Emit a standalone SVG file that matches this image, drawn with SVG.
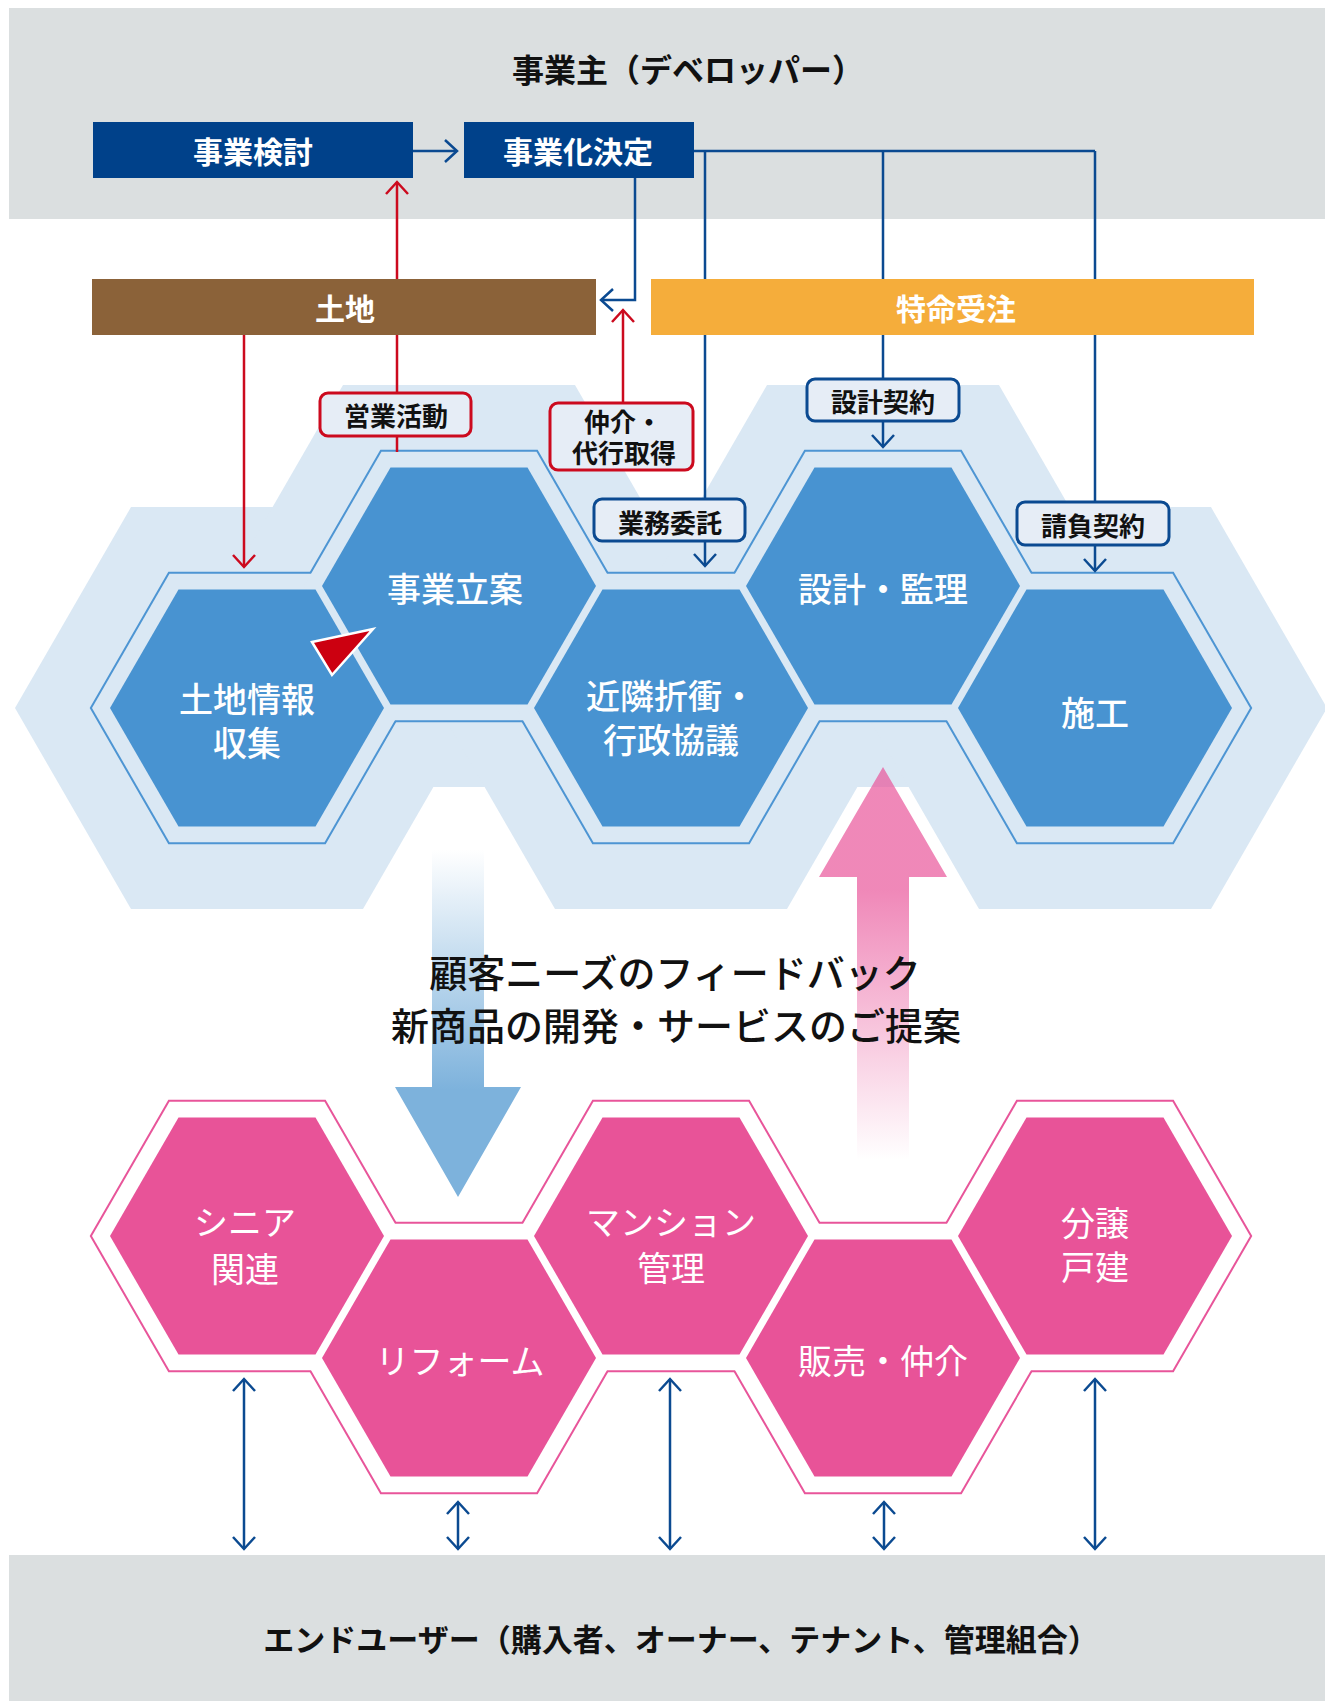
<svg xmlns="http://www.w3.org/2000/svg" xmlns:xlink="http://www.w3.org/1999/xlink" width="1325" height="1701" viewBox="0 0 1325 1701">
<defs>
<style>
text{font-family:"Noto Sans CJK JP","Noto Sans",sans-serif;text-anchor:middle;dominant-baseline:central}
.band{fill:#DBDFE0}
.bg{fill:#DAE8F4}
.ol-b{fill:none;stroke:#4D95D3;stroke-width:4}
.olf-b{fill:#DAE8F4}
.hb{fill:#4893D1}
.ol-p{fill:none;stroke:#E8559A;stroke-width:4}
.olf-p{fill:#FFFFFF}
.hp{fill:#E85398}
.ht{fill:#FFFFFF;font-size:34px;font-weight:500}
.pt{fill:#FFFFFF;font-size:34px;font-weight:400}
.bt{fill:#FFFFFF;font-size:30px;font-weight:700}
.lb{fill:#E6EDF6;stroke-width:3}
.lr{stroke:#CC0A1E}
.lbl{stroke:#0B4A91}
.lt{fill:#111111;font-size:26px;font-weight:600}
.cb{fill:none;stroke:#0B4A91;stroke-width:2.5}
.cr{fill:none;stroke:#CC0A1E;stroke-width:2.5}
.big{fill:#111111;font-size:32px;font-weight:700}
.mid{fill:#111111;font-size:38px;font-weight:500}
</style>
<polygon id="hbg" points="-232,0 -116,-200.9 116,-200.9 232,0 116,200.9 -116,200.9"/>
<polygon id="hol" points="-155,0 -77.5,-134.2 77.5,-134.2 155,0 77.5,134.2 -77.5,134.2"/>
<polygon id="hf" points="-137,0 -68.5,-118.6 68.5,-118.6 137,0 68.5,118.6 -68.5,118.6"/>
<marker id="mb" viewBox="-16 -16 20 32" markerWidth="20" markerHeight="32" refX="0" refY="0" orient="auto-start-reverse" markerUnits="userSpaceOnUse">
<path d="M-12,-11 L0,0 L-12,11" fill="none" stroke="#0B4A91" stroke-width="2.5"/>
</marker>
<marker id="mr" viewBox="-16 -16 20 32" markerWidth="20" markerHeight="32" refX="0" refY="0" orient="auto-start-reverse" markerUnits="userSpaceOnUse">
<path d="M-12,-11 L0,0 L-12,11" fill="none" stroke="#CC0A1E" stroke-width="2.5"/>
</marker>
<linearGradient id="gBlue" gradientUnits="userSpaceOnUse" x1="0" y1="850" x2="0" y2="1090">
<stop offset="0" stop-color="#7DB2DC" stop-opacity="0"/>
<stop offset="1" stop-color="#7DB2DC" stop-opacity="1"/>
</linearGradient>
<linearGradient id="gPink" gradientUnits="userSpaceOnUse" x1="0" y1="890" x2="0" y2="1160">
<stop offset="0" stop-color="#E9559A" stop-opacity="0.7"/>
<stop offset="1" stop-color="#E9559A" stop-opacity="0"/>
</linearGradient>
</defs>

<rect width="1325" height="1701" fill="#FFFFFF"/>

<g id="developer-band">
<rect class="band" x="9" y="8" width="1316" height="211"/>
<text class="big" x="688" y="68">事業主（デベロッパー）</text>
</g>
<g id="enduser-band">
<rect class="band" x="9" y="1555" width="1316" height="146"/>
<text class="big" x="681" y="1637" style="font-size:31px">エンドユーザー（購入者、オーナー、テナント、管理組合）</text>
</g>

<g id="top-background">
<use href="#hbg" class="bg" x="247" y="708"/>
<use href="#hbg" class="bg" x="459" y="586"/>
<use href="#hbg" class="bg" x="671" y="708"/>
<use href="#hbg" class="bg" x="883" y="586"/>
<use href="#hbg" class="bg" x="1095" y="708"/>
</g>

<g id="feedback-arrows">
<polygon points="432,787 484,787 484,1087 521,1087 458,1197 395,1087 432,1087" fill="url(#gBlue)"/>
<polygon points="883,767 947,877 909,877 909,1160 857,1160 857,877 819,877" fill="url(#gPink)"/>
</g>

<g id="top-outline">
<use href="#hol" class="ol-b" x="247" y="708"/>
<use href="#hol" class="ol-b" x="459" y="586"/>
<use href="#hol" class="ol-b" x="671" y="708"/>
<use href="#hol" class="ol-b" x="883" y="586"/>
<use href="#hol" class="ol-b" x="1095" y="708"/>
<use href="#hol" class="olf-b" x="247" y="708"/>
<use href="#hol" class="olf-b" x="459" y="586"/>
<use href="#hol" class="olf-b" x="671" y="708"/>
<use href="#hol" class="olf-b" x="883" y="586"/>
<use href="#hol" class="olf-b" x="1095" y="708"/>
</g>

<g id="node-tochijoho">
<use href="#hf" class="hb" x="247" y="708"/>
<text class="ht" x="247" y="697">土地情報</text>
<text class="ht" x="247" y="741">収集</text>
</g>
<g id="node-jigyoritsuan">
<use href="#hf" class="hb" x="459" y="586"/>
<text class="ht" x="455" y="587">事業立案</text>
</g>
<g id="node-kinrin">
<use href="#hf" class="hb" x="671" y="708"/>
<text class="ht" x="671" y="694">近隣折衝・</text>
<text class="ht" x="671" y="738">行政協議</text>
</g>
<g id="node-sekkei">
<use href="#hf" class="hb" x="883" y="586"/>
<text class="ht" x="883" y="587">設計・監理</text>
</g>
<g id="node-seko">
<use href="#hf" class="hb" x="1095" y="708"/>
<text class="ht" x="1095" y="711">施工</text>
</g>

<g id="bottom-outline">
<use href="#hol" class="ol-p" x="247" y="1236"/>
<use href="#hol" class="ol-p" x="459" y="1358"/>
<use href="#hol" class="ol-p" x="671" y="1236"/>
<use href="#hol" class="ol-p" x="883" y="1358"/>
<use href="#hol" class="ol-p" x="1095" y="1236"/>
<use href="#hol" class="olf-p" x="247" y="1236"/>
<use href="#hol" class="olf-p" x="459" y="1358"/>
<use href="#hol" class="olf-p" x="671" y="1236"/>
<use href="#hol" class="olf-p" x="883" y="1358"/>
<use href="#hol" class="olf-p" x="1095" y="1236"/>
</g>

<g id="node-senior">
<use href="#hf" class="hp" x="247" y="1236"/>
<text class="pt" x="245" y="1220">シニア</text>
<text class="pt" x="245" y="1267">関連</text>
</g>
<g id="node-reform">
<use href="#hf" class="hp" x="459" y="1358"/>
<text class="pt" x="460" y="1359">リフォーム</text>
</g>
<g id="node-mansion">
<use href="#hf" class="hp" x="671" y="1236"/>
<text class="pt" x="671" y="1220">マンション</text>
<text class="pt" x="671" y="1266">管理</text>
</g>
<g id="node-hanbai">
<use href="#hf" class="hp" x="883" y="1358"/>
<text class="pt" x="883" y="1359">販売・仲介</text>
</g>
<g id="node-bunjo">
<use href="#hf" class="hp" x="1095" y="1236"/>
<text class="pt" x="1095" y="1221">分譲</text>
<text class="pt" x="1095" y="1265">戸建</text>
</g>

<g id="connectors">
<line class="cb" x1="413" y1="151" x2="457" y2="151" marker-end="url(#mb)"/>
<polyline class="cb" points="694,151 1095,151"/>
<line class="cb" x1="705" y1="151" x2="705" y2="566" marker-end="url(#mb)"/>
<line class="cb" x1="883" y1="151" x2="883" y2="447" marker-end="url(#mb)"/>
<line class="cb" x1="1095" y1="151" x2="1095" y2="571" marker-end="url(#mb)"/>
<polyline class="cb" points="635,178 635,300 601,300" marker-end="url(#mb)"/>
<line class="cr" x1="397" y1="452" x2="397" y2="182" marker-end="url(#mr)"/>
<line class="cr" x1="244" y1="335" x2="244" y2="567" marker-end="url(#mr)"/>
<line class="cr" x1="623" y1="403" x2="623" y2="310" marker-end="url(#mr)"/>
<polygon points="312,642 373,629 332,675" fill="#CC0010" stroke="#FFFFFF" stroke-width="2.5" stroke-linejoin="miter"/>
<line class="cb" x1="244" y1="1379" x2="244" y2="1549" marker-start="url(#mb)" marker-end="url(#mb)"/>
<line class="cb" x1="458" y1="1502" x2="458" y2="1549" marker-start="url(#mb)" marker-end="url(#mb)"/>
<line class="cb" x1="670" y1="1379" x2="670" y2="1549" marker-start="url(#mb)" marker-end="url(#mb)"/>
<line class="cb" x1="884" y1="1502" x2="884" y2="1549" marker-start="url(#mb)" marker-end="url(#mb)"/>
<line class="cb" x1="1095" y1="1379" x2="1095" y2="1549" marker-start="url(#mb)" marker-end="url(#mb)"/>
</g>

<g id="box-jigyokento">
<rect x="93" y="122" width="320" height="56" fill="#00418A"/>
<text class="bt" x="253" y="150">事業検討</text>
</g>
<g id="box-jigyokakettei">
<rect x="464" y="122" width="230" height="56" fill="#00418A"/>
<text class="bt" x="578" y="150">事業化決定</text>
</g>
<g id="box-tochi">
<rect x="92" y="279" width="504" height="56" fill="#8B6239"/>
<text class="bt" x="345" y="307">土地</text>
</g>
<g id="box-tokumei">
<rect x="651" y="279" width="603" height="56" fill="#F5AD3B"/>
<text class="bt" x="956" y="307">特命受注</text>
</g>

<g id="label-eigyo">
<rect class="lb lr" x="320" y="393" width="151" height="43" rx="8"/>
<text class="lt" x="396" y="414">営業活動</text>
</g>
<g id="label-chukai">
<rect class="lb lr" x="550" y="403" width="143" height="67" rx="8"/>
<text class="lt" x="623" y="420">仲介・</text>
<text class="lt" x="624" y="451">代行取得</text>
</g>
<g id="label-gyomu">
<rect class="lb lbl" x="594" y="499" width="151" height="42" rx="8"/>
<text class="lt" x="670" y="521">業務委託</text>
</g>
<g id="label-sekkeikeiyaku">
<rect class="lb lbl" x="807" y="379" width="152" height="42" rx="8"/>
<text class="lt" x="883" y="400">設計契約</text>
</g>
<g id="label-ukeoi">
<rect class="lb lbl" x="1017" y="502" width="152" height="43" rx="8"/>
<text class="lt" x="1093" y="524">請負契約</text>
</g>

<g id="center-text">
<text class="mid" x="675" y="970">顧客ニーズのフィードバック</text>
<text class="mid" x="676" y="1023">新商品の開発・サービスのご提案</text>
</g>
</svg>
